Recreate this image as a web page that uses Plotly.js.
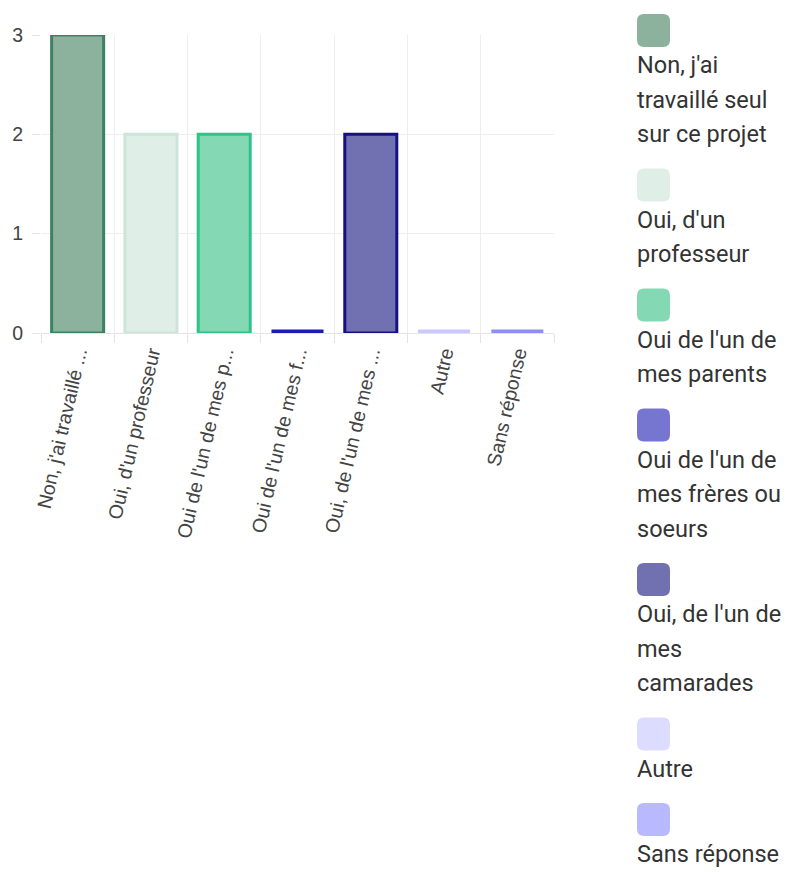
<!DOCTYPE html>
<html>
<head>
<meta charset="utf-8">
<script src="https://cdn.plot.ly/plotly-3.0.1.min.js"></script>
<style>html,body{margin:0;padding:0;background:#fff;}#chart{width:786px;height:888px;}</style>
</head>
<body>
<div id="chart"></div>
<script>
const categories = ["Non, j'ai travaillé seul sur ce projet", "Oui, d'un professeur", "Oui de l'un de mes parents", "Oui de l'un de mes frères ou soeurs", "Oui, de l'un de mes camarades", "Autre", "Sans réponse"];
const tickLabels = ["Non, j'ai travaillé ...", "Oui, d'un professeur", "Oui de l'un de mes p...", "Oui de l'un de mes f...", "Oui, de l'un de mes ...", "Autre", "Sans réponse"];
const counts = [3, 2, 2, 0, 2, 0, 0];
const fillColors = ["#8cb29e", "#dfeee7", "#84d9b4", "#7676d0", "#7170b0", "#dcdcff", "#b9b9ff"];
const lineColors = ["#3e8062", "#cde5d9", "#2ec486", "#1c1cb4", "#15127e", "#c8c8fc", "#8e8ef6"];
const legendLines = [
  ["Non, j'ai", "travaillé seul", "sur ce projet"],
  ["Oui, d'un", "professeur"],
  ["Oui de l'un de", "mes parents"],
  ["Oui de l'un de", "mes frères ou", "soeurs"],
  ["Oui, de l'un de", "mes", "camarades"],
  ["Autre"],
  ["Sans réponse"]
];

// plot area geometry (pixels)
const W = 786, H = 888;
const PL = 41, PR = 554, PT = 35, PB = 333;
const pw = PR - PL, ph = PB - PT;
const px = v => (v - PL) / pw;
const py = v => (PB - v) / ph;

const shapes = [];
const annotations = [];
let y = 14;
const sq = 33, r = 7, lx = 637, lineH = 34.5;
legendLines.forEach((lines, i) => {
  const x0 = lx, x1 = lx + sq, y0 = y, y1 = y + sq;
  const path = `M ${px(x0 + r)} ${py(y0)} L ${px(x1 - r)} ${py(y0)} Q ${px(x1)} ${py(y0)} ${px(x1)} ${py(y0 + r)} ` +
    `L ${px(x1)} ${py(y1 - r)} Q ${px(x1)} ${py(y1)} ${px(x1 - r)} ${py(y1)} ` +
    `L ${px(x0 + r)} ${py(y1)} Q ${px(x0)} ${py(y1)} ${px(x0)} ${py(y1 - r)} ` +
    `L ${px(x0)} ${py(y0 + r)} Q ${px(x0)} ${py(y0)} ${px(x0 + r)} ${py(y0)} Z`;
  shapes.push({type: 'path', xref: 'paper', yref: 'paper', path: path, fillcolor: fillColors[i], line: {width: 0}});
  let ly = y + 51;
  lines.forEach((t, j) => {
    annotations.push({xref: 'paper', yref: 'paper', x: px(lx - 2), y: py(ly), text: t, showarrow: false,
      xanchor: 'left', yanchor: 'middle', font: {family: 'Roboto, sans-serif', size: 23.5, color: '#333333'}});
    if (j < lines.length - 1) ly += lineH;
  });
  y = ly + lineH;
});

const trace = {
  type: 'bar',
  x: categories,
  y: counts,
  marker: {color: fillColors, line: {color: lineColors, width: counts.map(v => v === 0 ? 7 : 3)}},
  cliponaxis: false,
  hoverinfo: 'x+y'
};

const layout = {
  width: W, height: H,
  margin: {l: PL, r: W - PR, t: PT, b: H - PB, pad: 0},
  paper_bgcolor: '#ffffff', plot_bgcolor: '#ffffff',
  showlegend: false,
  bargap: 0.29,
  font: {family: 'Liberation Sans, Arial, sans-serif', color: '#444444'},
  xaxis: {
    type: 'category',
    tickmode: 'array', tickvals: categories, ticktext: tickLabels,
    tickson: 'boundaries', ticks: 'outside', ticklen: 9, tickcolor: '#e4e4e4',
    showgrid: true, gridcolor: '#eeeeee', gridwidth: 1,
    tickangle: -77, tickfont: {size: 19.5, color: '#444444'}, ticklabelstandoff: 4,
    showline: false, zeroline: false, fixedrange: true
  },
  yaxis: {
    range: [0, 3], tickvals: [0, 1, 2, 3], ticks: 'outside', ticklen: 8, tickcolor: '#e4e4e4',
    showgrid: true, gridcolor: '#eeeeee', zeroline: true, zerolinecolor: '#e4e4e4', zerolinewidth: 1,
    tickfont: {size: 19.5, color: '#444444'}, ticklabelstandoff: 5, showline: false, fixedrange: true
  },
  shapes: shapes,
  annotations: annotations
};

Plotly.newPlot('chart', [trace], layout, {displayModeBar: false, staticPlot: true});
</script>
</body>
</html>
